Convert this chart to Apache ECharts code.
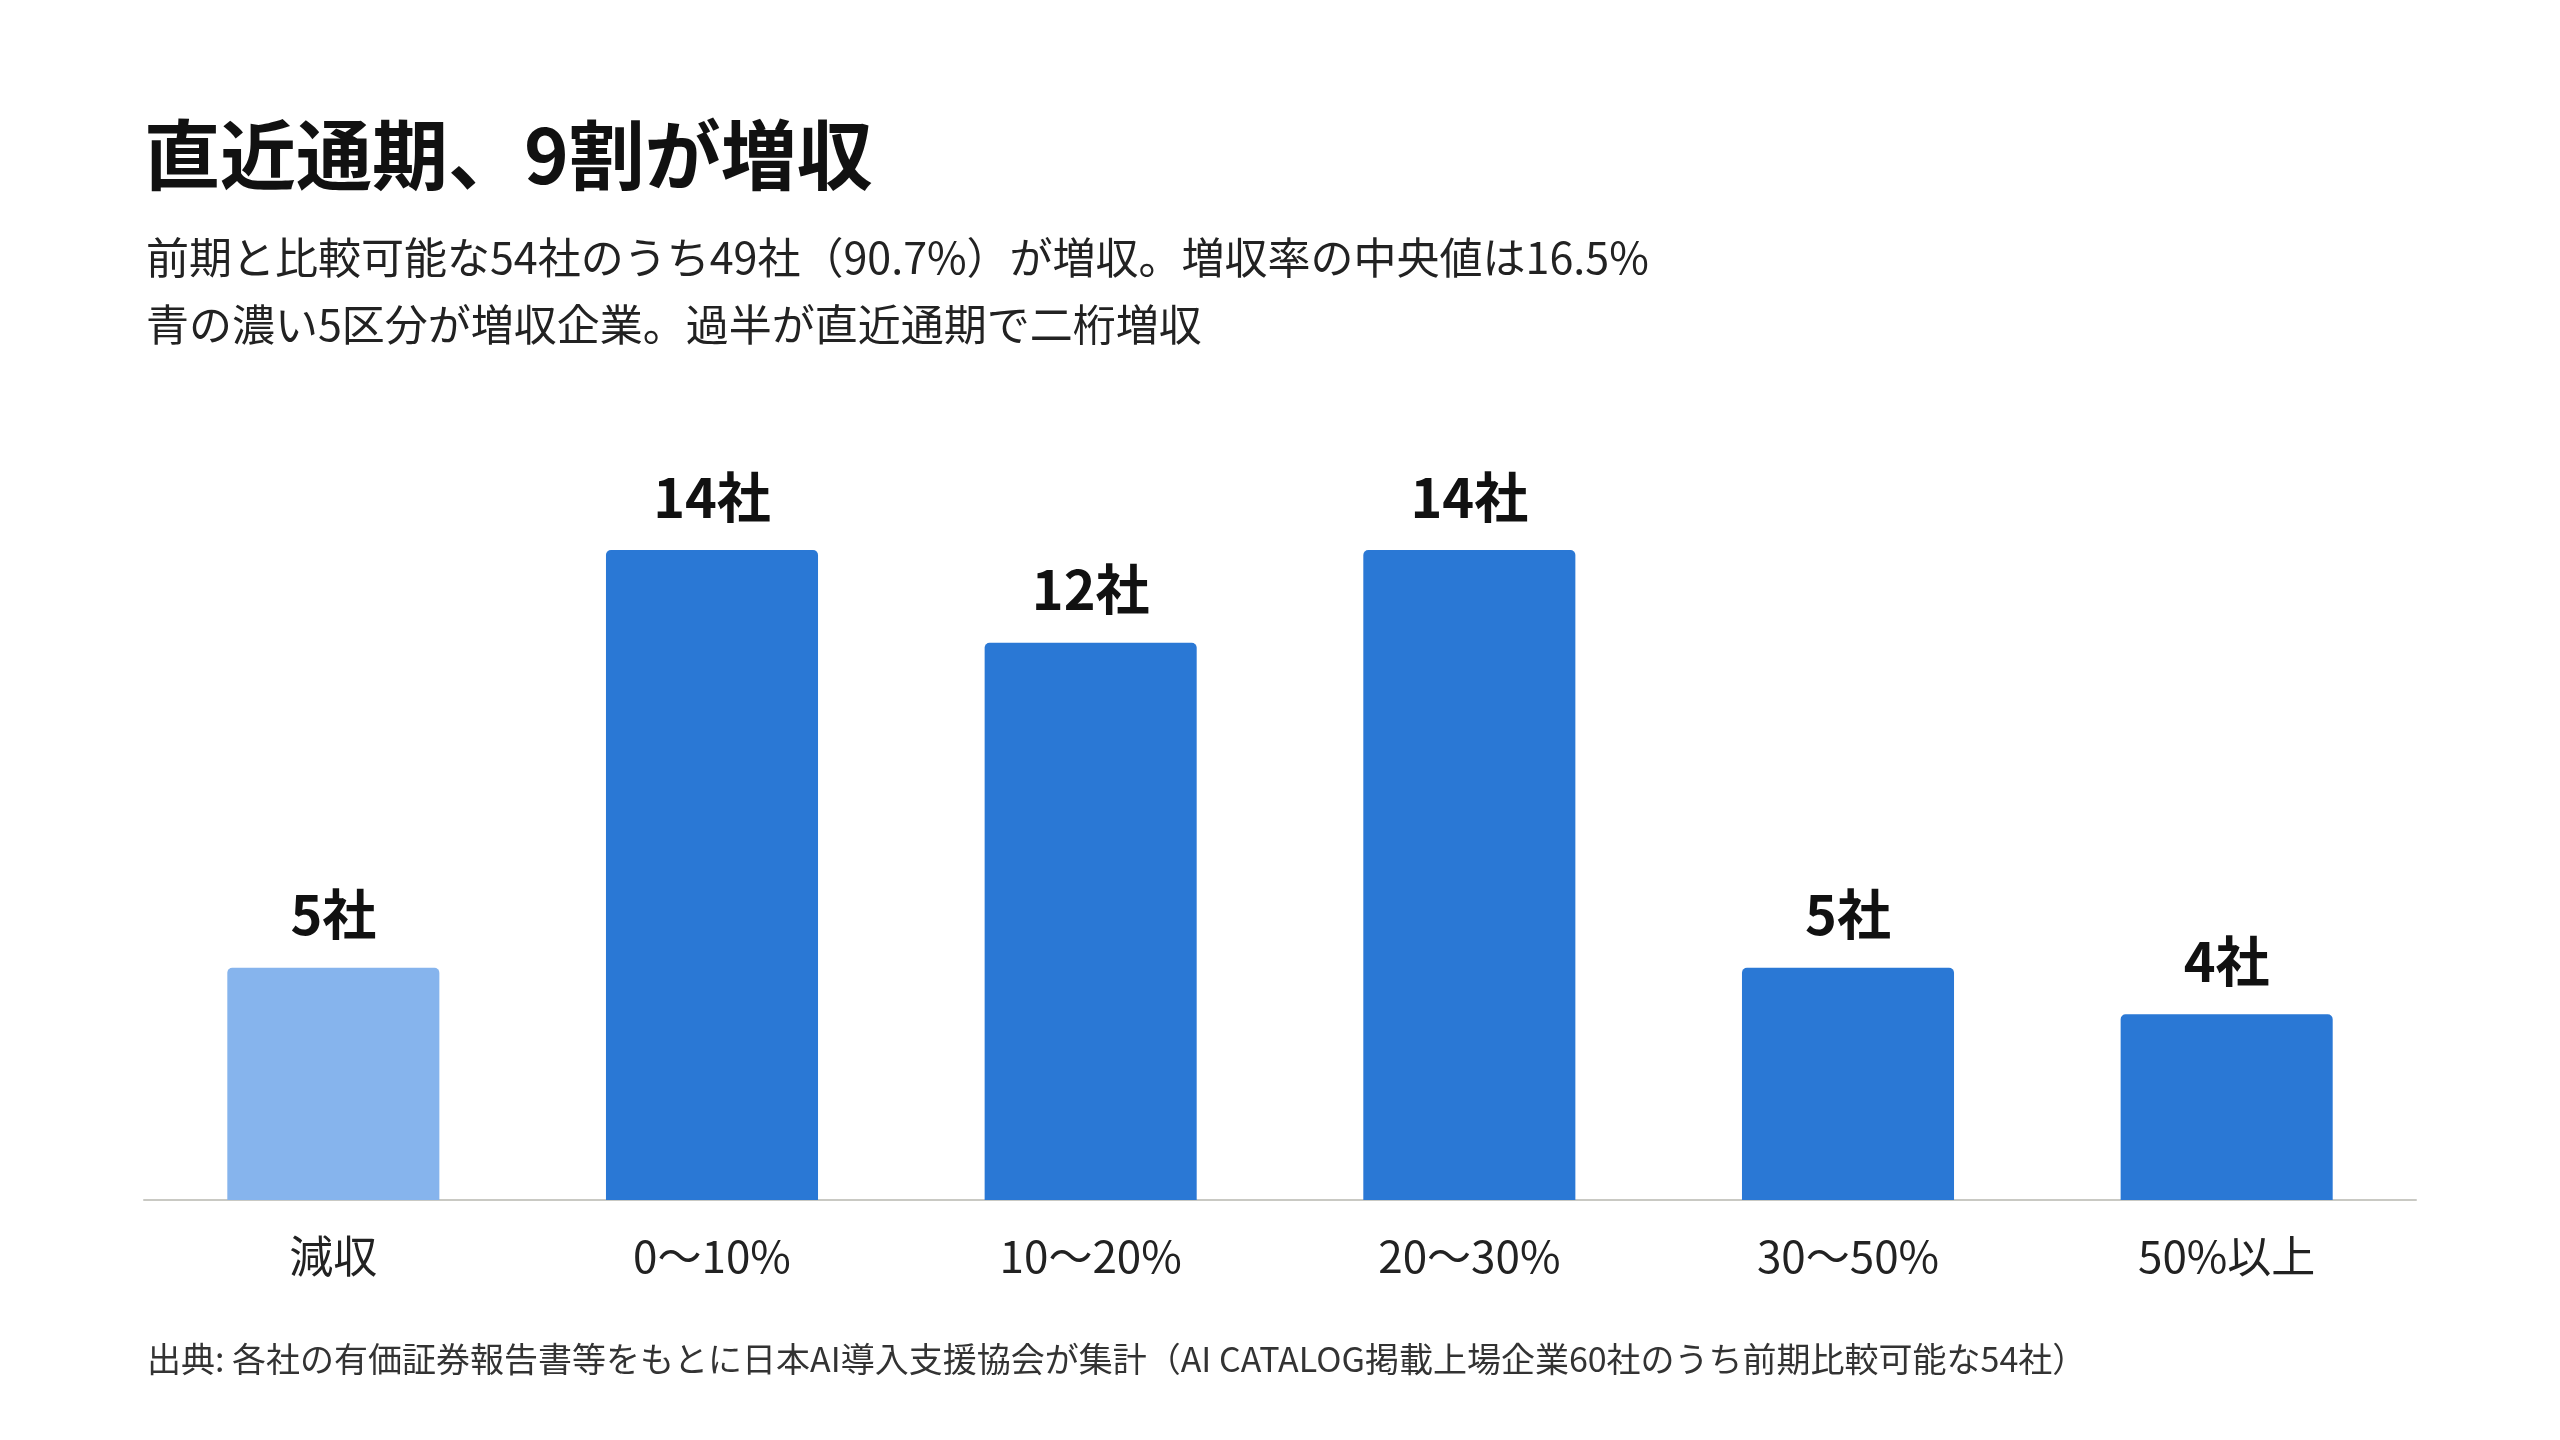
<!DOCTYPE html>
<html>
<head>
<meta charset="utf-8">
<script src="https://cdn.jsdelivr.net/npm/echarts@6/dist/echarts.min.js"></script>
<style>
  html, body { margin: 0; padding: 0; background: #fff; }
  #chart { width: 2560px; height: 1440px; }
</style>
</head>
<body>
<div id="chart"></div>
<script>
// 増収率の区分と社数
const categories = ['減収', '0〜10%', '10〜20%', '20〜30%', '30〜50%', '50%以上'];
const counts = [5, 14, 12, 14, 5, 4];
const declineIndex = 0;

const font = '"Noto Sans CJK JP", "Noto Sans", sans-serif';

const chart = echarts.init(document.getElementById('chart'));
chart.setOption({
  backgroundColor: '#ffffff',
  animation: false,
  title: [
    {
      text: '直近通期、9割が増収',
      left: 139,
      top: 112,
      textStyle: { fontFamily: font, fontSize: 76, fontWeight: 'bold', color: '#111111' }
    },
    {
      text: '前期と比較可能な54社のうち49社（90.7%）が増収。増収率の中央値は16.5%\n青の濃い5区分が増収企業。過半が直近通期で二桁増収',
      left: 141,
      top: 219,
      textStyle: { fontFamily: font, fontSize: 43, fontWeight: 'normal', color: '#222222', lineHeight: 67 }
    },
    {
      text: '出典: 各社の有価証券報告書等をもとに日本AI導入支援協会が集計（AI CATALOG掲載上場企業60社のうち前期比較可能な54社）',
      left: 142,
      top: 1337,
      textStyle: { fontFamily: font, fontSize: 34, fontWeight: 'normal', color: '#333333' }
    }
  ],
  grid: { left: 144, right: 144, top: 550, bottom: 240 },
  xAxis: {
    type: 'category',
    data: categories,
    axisLine: { show: true, lineStyle: { color: '#c9c9c3', width: 2 } },
    axisTick: { show: false },
    axisLabel: { fontFamily: font, fontSize: 44, color: '#222222', margin: 34 }
  },
  yAxis: {
    type: 'value',
    min: 0,
    max: 14,
    show: false,
    splitLine: { show: false }
  },
  series: [{
    type: 'bar',
    data: counts,
    barWidth: '56%',
    itemStyle: {
      borderRadius: [5, 5, 0, 0],
      color: function (p) {
        return p.dataIndex === declineIndex ? '#86b4ed' : '#2a78d5';
      }
    },
    label: {
      show: true,
      position: 'top',
      distance: 26,
      formatter: '{c}社',
      fontFamily: font,
      fontSize: 54,
      fontWeight: 'bold',
      color: '#111111'
    }
  }]
});
</script>
</body>
</html>
